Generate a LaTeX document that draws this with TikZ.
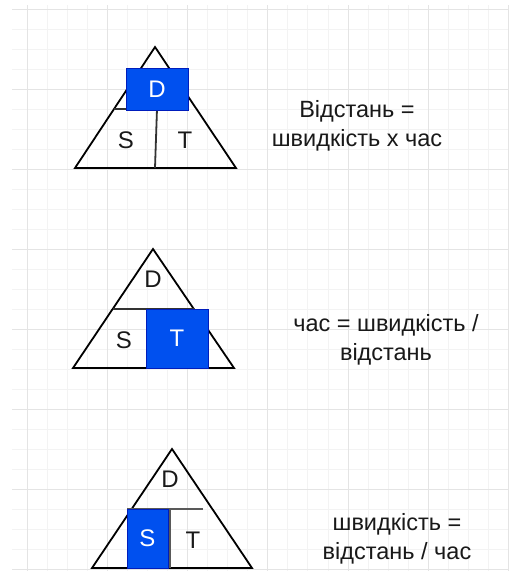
\documentclass[tikz,border=0pt]{standalone}
\usepackage{fontspec}
\setmainfont{Liberation Sans}
\usepackage{xcolor}
\usetikzlibrary{calc}

\definecolor{boxblue}{HTML}{0050EF}
\definecolor{boxedge}{HTML}{001DBC}
\definecolor{gridminor}{HTML}{F3F3F3}
\definecolor{gridmajor}{HTML}{E4E4E4}

\tikzset{
  minorline/.style={draw=gridminor, line width=1pt},
  majorline/.style={draw=gridmajor, line width=1pt},
  tri/.style={draw=black, line width=1.8pt, line join=miter},
  divline/.style={draw=black!80, line width=1.8pt},
  bluebox/.style={draw=boxedge, fill=boxblue, line width=0.8pt, text=white,
    inner sep=0pt, font=\fontsize{24}{28}\selectfont},
  letter/.style={inner sep=0pt, text=black!90, font=\fontsize{24}{28}\selectfont},
  formula/.style={align=center, inner sep=0pt, text=black!90,
    font=\fontsize{23.5}{29}\selectfont}
}

\begin{document}
\begin{tikzpicture}[x=1pt,y=-1pt]
  \useasboundingbox (0,0) rectangle (509,571);
  \fill[white] (0,0) rectangle (509,571);

  % background grid
  \foreach \i in {0,...,24}{
    \pgfmathsetmacro{\gx}{27+20.07*\i}
    \draw[minorline] (\gx,5) -- (\gx,571);
  }
  \foreach \i in {0,...,28}{
    \pgfmathsetmacro{\gy}{9+20*\i}
    \draw[minorline] (12,\gy) -- (509,\gy);
  }
  \foreach \i in {0,...,6}{
    \pgfmathsetmacro{\gx}{27+80.3*\i}
    \draw[majorline] (\gx,5) -- (\gx,571);
  }
  \foreach \i in {0,...,7}{
    \pgfmathsetmacro{\gy}{9+80*\i}
    \draw[majorline] (12,\gy) -- (509,\gy);
  }

  % distance
  \coordinate (a1) at (155,47);
  \coordinate (l1) at (75,168);
  \coordinate (r1) at (236,168);
  \coordinate (h1) at (114,109);
  \coordinate (m1) at (157,109);
  \coordinate (b1) at (155,168);
  \draw[tri] (a1) -- (r1) -- (l1) -- cycle;
  \draw[divline] (h1) -- (m1) -- (b1);
  \node[bluebox, minimum width=62pt, minimum height=42pt] (d1) at (157,89) {D};
  \node[letter] (s1) at (126,140) {S};
  \node[letter] (t1) at (185,140) {T};
  \node[formula] (f1) at (357,126) {Відстань =\\швидкість х час};

  % time
  \coordinate (a2) at (153,249);
  \coordinate (l2) at (73,368);
  \coordinate (r2) at (234,368);
  \coordinate (h2) at (113,309);
  \coordinate (k2) at (194,309);
  \draw[tri] (a2) -- (r2) -- (l2) -- cycle;
  \draw[divline] (h2) -- (k2);
  \node[bluebox, minimum width=62pt, minimum height=59pt] (t2) at (177,338.5) {T};
  \node[letter] (d2) at (153,279) {D};
  \node[letter] (s2) at (124,340) {S};
  \node[formula] (f2) at (386,340) {час = швидкість /\\відстань};

  % speed
  \coordinate (a3) at (172,449);
  \coordinate (l3) at (92,568);
  \coordinate (r3) at (252,568);
  \coordinate (h3) at (127,509);
  \coordinate (k3) at (203,509);
  \coordinate (m3) at (170,509);
  \coordinate (b3) at (170,568);
  \draw[tri] (a3) -- (r3) -- (l3) -- cycle;
  \draw[divline, draw=black!65] (h3) -- (k3);
  \draw[divline, draw=black!65] (m3) -- (b3);
  \node[bluebox, minimum width=41pt, minimum height=59pt] (s3) at (147.5,538.5) {S};
  \node[letter] (d3) at (170,479) {D};
  \node[letter] (t3) at (193,540) {T};
  \node[formula] (f3) at (397,539) {швидкість =\\відстань / час};
\end{tikzpicture}
\end{document}
